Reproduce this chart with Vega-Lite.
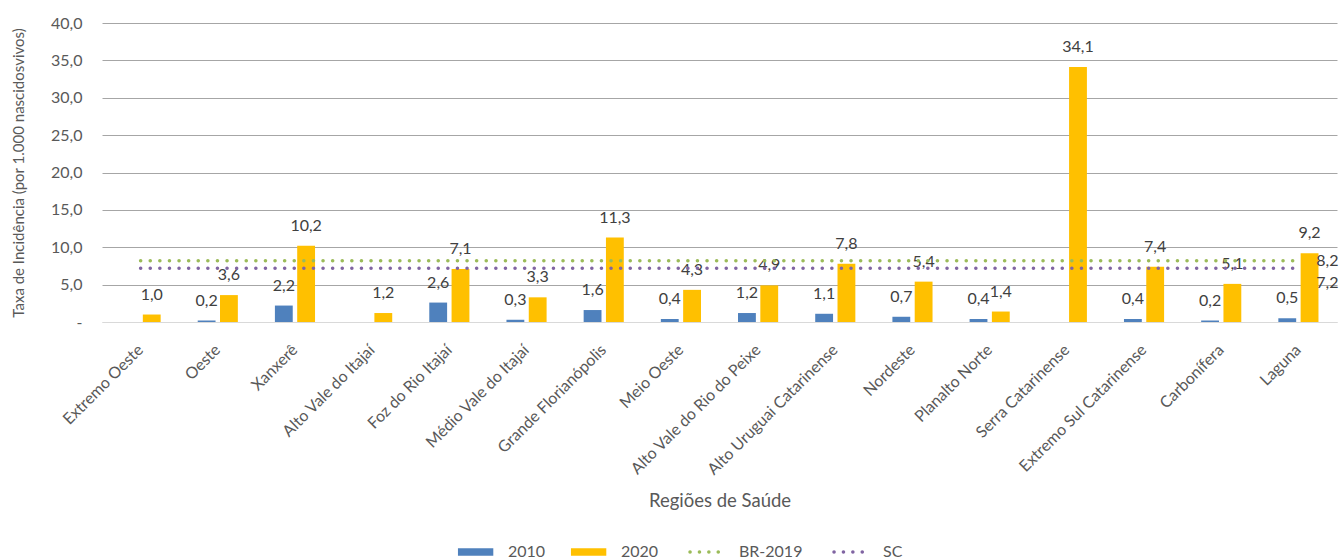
{
  "$schema": "https://vega.github.io/schema/vega-lite/v6.json",
  "width": 1235,
  "height": 299,
  "autosize": {"type": "none"},
  "padding": {"left": 102, "top": 23, "right": 3, "bottom": 238},
  "background": "white",
  "config": {
    "locale": {"number": {"decimal": ",", "thousands": ".", "grouping": [3], "currency": ["R$", ""]}},
    "font": "Lato",
    "view": {"stroke": null},
    "axis": {"labelColor": "#595959", "titleColor": "#595959", "labelFont": "Lato", "titleFont": "Lato", "titleFontWeight": "normal"},
    "legend": {"labelFont": "Lato", "labelColor": "#595959", "labelFontSize": 16}
  },
  "datasets": {
    "bars": [
      {"region": "Extremo Oeste", "series": "2020", "value": 1.0},
      {"region": "Oeste", "series": "2010", "value": 0.2},
      {"region": "Oeste", "series": "2020", "value": 3.6},
      {"region": "Xanxerê", "series": "2010", "value": 2.2},
      {"region": "Xanxerê", "series": "2020", "value": 10.2},
      {"region": "Alto Vale do Itajaí", "series": "2020", "value": 1.2},
      {"region": "Foz do Rio Itajaí", "series": "2010", "value": 2.6},
      {"region": "Foz do Rio Itajaí", "series": "2020", "value": 7.1},
      {"region": "Médio Vale do Itajaí", "series": "2010", "value": 0.3},
      {"region": "Médio Vale do Itajaí", "series": "2020", "value": 3.3},
      {"region": "Grande Florianópolis", "series": "2010", "value": 1.6},
      {"region": "Grande Florianópolis", "series": "2020", "value": 11.3},
      {"region": "Meio Oeste", "series": "2010", "value": 0.4},
      {"region": "Meio Oeste", "series": "2020", "value": 4.3},
      {"region": "Alto Vale do Rio do Peixe", "series": "2010", "value": 1.2},
      {"region": "Alto Vale do Rio do Peixe", "series": "2020", "value": 4.9},
      {"region": "Alto Uruguai Catarinense", "series": "2010", "value": 1.1},
      {"region": "Alto Uruguai Catarinense", "series": "2020", "value": 7.8},
      {"region": "Nordeste", "series": "2010", "value": 0.7},
      {"region": "Nordeste", "series": "2020", "value": 5.4},
      {"region": "Planalto Norte", "series": "2010", "value": 0.4},
      {"region": "Planalto Norte", "series": "2020", "value": 1.4},
      {"region": "Serra Catarinense", "series": "2020", "value": 34.1},
      {"region": "Extremo Sul Catarinense", "series": "2010", "value": 0.4},
      {"region": "Extremo Sul Catarinense", "series": "2020", "value": 7.4},
      {"region": "Carbonífera", "series": "2010", "value": 0.2},
      {"region": "Carbonífera", "series": "2020", "value": 5.1},
      {"region": "Laguna", "series": "2010", "value": 0.5},
      {"region": "Laguna", "series": "2020", "value": 9.2}
    ],
    "refs": [
      {"region": "Extremo Oeste", "series": "BR-2019", "value": 8.2},
      {"region": "Oeste", "series": "BR-2019", "value": 8.2},
      {"region": "Xanxerê", "series": "BR-2019", "value": 8.2},
      {"region": "Alto Vale do Itajaí", "series": "BR-2019", "value": 8.2},
      {"region": "Foz do Rio Itajaí", "series": "BR-2019", "value": 8.2},
      {"region": "Médio Vale do Itajaí", "series": "BR-2019", "value": 8.2},
      {"region": "Grande Florianópolis", "series": "BR-2019", "value": 8.2},
      {"region": "Meio Oeste", "series": "BR-2019", "value": 8.2},
      {"region": "Alto Vale do Rio do Peixe", "series": "BR-2019", "value": 8.2},
      {"region": "Alto Uruguai Catarinense", "series": "BR-2019", "value": 8.2},
      {"region": "Nordeste", "series": "BR-2019", "value": 8.2},
      {"region": "Planalto Norte", "series": "BR-2019", "value": 8.2},
      {"region": "Serra Catarinense", "series": "BR-2019", "value": 8.2},
      {"region": "Extremo Sul Catarinense", "series": "BR-2019", "value": 8.2},
      {"region": "Carbonífera", "series": "BR-2019", "value": 8.2},
      {"region": "Laguna", "series": "BR-2019", "value": 8.2},
      {"region": "Extremo Oeste", "series": "SC", "value": 7.2},
      {"region": "Oeste", "series": "SC", "value": 7.2},
      {"region": "Xanxerê", "series": "SC", "value": 7.2},
      {"region": "Alto Vale do Itajaí", "series": "SC", "value": 7.2},
      {"region": "Foz do Rio Itajaí", "series": "SC", "value": 7.2},
      {"region": "Médio Vale do Itajaí", "series": "SC", "value": 7.2},
      {"region": "Grande Florianópolis", "series": "SC", "value": 7.2},
      {"region": "Meio Oeste", "series": "SC", "value": 7.2},
      {"region": "Alto Vale do Rio do Peixe", "series": "SC", "value": 7.2},
      {"region": "Alto Uruguai Catarinense", "series": "SC", "value": 7.2},
      {"region": "Nordeste", "series": "SC", "value": 7.2},
      {"region": "Planalto Norte", "series": "SC", "value": 7.2},
      {"region": "Serra Catarinense", "series": "SC", "value": 7.2},
      {"region": "Extremo Sul Catarinense", "series": "SC", "value": 7.2},
      {"region": "Carbonífera", "series": "SC", "value": 7.2},
      {"region": "Laguna", "series": "SC", "value": 7.2}
    ]
  },
  "encoding": {
    "x": {
      "field": "region",
      "type": "nominal",
      "sort": null,
      "scale": {
        "domain": ["Extremo Oeste", "Oeste", "Xanxerê", "Alto Vale do Itajaí", "Foz do Rio Itajaí", "Médio Vale do Itajaí", "Grande Florianópolis", "Meio Oeste", "Alto Vale do Rio do Peixe", "Alto Uruguai Catarinense", "Nordeste", "Planalto Norte", "Serra Catarinense", "Extremo Sul Catarinense", "Carbonífera", "Laguna"],
        "paddingInner": 0.48,
        "paddingOuter": 0.24
      },
      "axis": {
        "title": "Regiões de Saúde",
        "titleFontSize": 18.5,
        "titleY": 178,
        "titleBaseline": "middle",
        "labelAngle": -45,
        "labelAlign": "right",
        "labelBaseline": "middle",
        "labelFontSize": 16,
        "labelPadding": 25,
        "ticks": false,
        "domain": true,
        "domainColor": "#d9d9d9",
        "grid": false
      }
    },
    "y": {
      "field": "value",
      "type": "quantitative",
      "scale": {"domain": [0, 40], "nice": false},
      "axis": {
        "title": "Taxa de Incidência (por 1.000 nascidosvivos)",
        "titleFontSize": 15,
        "titlePadding": 24,
        "values": [0, 5, 10, 15, 20, 25, 30, 35, 40],
        "format": ".1f",
        "labelExpr": "datum.value == 0 ? '-' : datum.label",
        "labelFontSize": 16,
        "labelPadding": 20,
        "domain": false,
        "ticks": false,
        "grid": true,
        "gridColor": {"condition": {"test": "datum.value == 0", "value": "#d9d9d9"}, "value": "#a6a6a6"}
      }
    }
  },
  "layer": [
    {
      "data": {"name": "bars"},
      "mark": {"type": "bar"},
      "encoding": {
        "xOffset": {"field": "series", "type": "nominal", "scale": {"domain": ["2010", "2020"], "paddingInner": 0.2}},
        "color": {
          "field": "series",
          "type": "nominal",
          "scale": {"domain": ["2010", "2020", "BR-2019", "SC"], "range": ["#4F81BD", "#FFC000", "#9BBB59", "#8064A2"]},
          "legend": {
            "orient": "none",
            "legendX": 384,
            "legendY": 521,
            "direction": "horizontal",
            "title": null,
            "symbolSize": 2500,
            "labelOffset": 6,
            "columnPadding": 24,
            "labelFontSize": 16,
            "encode": {
              "symbols": {
                "update": {
                  "shape": {"signal": "indexof(['2010','2020'], datum.value) >= 0 ? 'M-1.442,-0.15H-0.028V0.15H-1.442Z' : 'M-1.40,0H-0.07'"},
                  "fill": {"signal": "indexof(['2010','2020'], datum.value) >= 0 ? scale('color', datum.value) : 'transparent'"},
                  "stroke": {"signal": "scale('color', datum.value)"},
                  "strokeWidth": {"signal": "indexof(['2010','2020'], datum.value) >= 0 ? 0 : 3.5"},
                  "strokeDash": {"signal": "indexof(['2010','2020'], datum.value) >= 0 ? [1, 0] : [0.1, 9.3]"},
                  "strokeCap": {"value": "round"},
                  "opacity": {"value": 1},
                  "fillOpacity": {"value": 1},
                  "strokeOpacity": {"value": 1}
                }
              }
            }
          }
        }
      }
    },
    {
      "data": {"name": "bars"},
      "mark": {"type": "text", "baseline": "middle", "align": "center", "dy": -20, "fontSize": 16, "color": "#404040", "font": "Lato"},
      "encoding": {
        "xOffset": {"field": "series", "type": "nominal"},
        "text": {"field": "value", "type": "quantitative", "format": ".1f"}
      }
    },
    {
      "data": {"name": "refs"},
      "mark": {"type": "line", "strokeWidth": 3.5, "strokeCap": "round", "strokeDash": [0.1, 9.5]},
      "encoding": {
        "color": {"field": "series", "type": "nominal"}
      }
    },
    {
      "data": {"name": "refs"},
      "transform": [{"filter": "datum.region == 'Laguna' && datum.series == 'BR-2019'"}],
      "mark": {"type": "text", "baseline": "middle", "align": "center", "dx": 29, "dy": 0, "fontSize": 16, "color": "#404040", "font": "Lato"},
      "encoding": {
        "text": {"field": "value", "type": "quantitative", "format": ".1f"}
      }
    },
    {
      "data": {"name": "refs"},
      "transform": [{"filter": "datum.region == 'Laguna' && datum.series == 'SC'"}],
      "mark": {"type": "text", "baseline": "middle", "align": "center", "dx": 29, "dy": 15, "fontSize": 16, "color": "#404040", "font": "Lato"},
      "encoding": {
        "text": {"field": "value", "type": "quantitative", "format": ".1f"}
      }
    }
  ]
}
